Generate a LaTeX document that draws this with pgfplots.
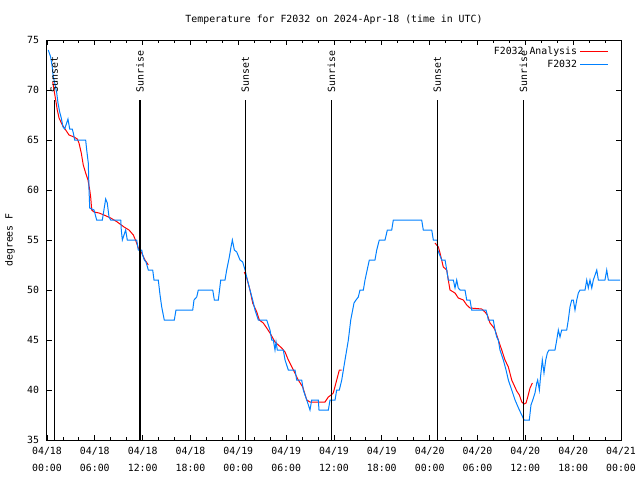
\documentclass[border=0pt]{standalone}
\usepackage{pgfplots}
\pgfplotsset{compat=1.18}
\usepackage{fontspec}
\setmainfont{DejaVu Sans Mono}
\setmonofont{DejaVu Sans Mono}
\definecolor{anared}{RGB}{255,0,0}
\definecolor{obsblue}{RGB}{0,128,255}

\begin{document}
\begin{tikzpicture}[font=\fontsize{7.4}{9}\selectfont]
\begin{axis}[
  name=ax,
  scale only axis,
  width=430.5pt, height=300pt,
  xmin=0, xmax=72, ymin=35, ymax=75,
  xtick={0,6,...,72},
  xticklabels={{04/18\\00:00},{04/18\\06:00},{04/18\\12:00},{04/18\\18:00},
               {04/19\\00:00},{04/19\\06:00},{04/19\\12:00},{04/19\\18:00},
               {04/20\\00:00},{04/20\\06:00},{04/20\\12:00},{04/20\\18:00},
               {04/21\\00:00}},
  minor x tick num=2,
  ytick={35,40,...,75},
  tick align=inside,
  major tick length=4pt, minor tick length=2.2pt,
  every tick/.style={black, line width=0.6pt},
  axis line style={line width=0.75pt},
  xticklabel style={align=center, font=\fontsize{7.4}{12.6}\selectfont, yshift=-2pt},
  yticklabel style={xshift=-2.5pt},
  /pgf/number format/assume math mode=true,
  title={Temperature for F2032 on 2024-Apr-18 (time in UTC)},
  title style={anchor=center, yshift=9pt},
  ylabel={degrees F},
  ylabel style={at={(0,0.5)}, anchor=center, yshift=27.75pt},
  legend style={draw=none, fill=none, at={(1,1)}, anchor=north east,
    xshift=-6pt, yshift=-1pt, row sep=-1.5pt,
    font=\fontsize{7.4}{9}\selectfont},
  legend cell align=right,
  legend plot pos=right,
  legend image code/.code={\draw[#1] (2pt,0pt) -- (23pt,0pt);},
]

% analysis, three pieces
\addplot[anared, line width=0.75pt] coordinates {
(0.72,70.8) (0.88,70) (1.09,69) (1.29,68) (1.51,67.2) (1.92,66.5) (2.35,66)
(2.76,65.5) (3.39,65.3) (3.80,65.1) (4.01,64.7) (4.30,63.7) (4.55,62.5)
(4.85,61.7) (5.14,61) (5.36,60) (5.48,59.3) (5.61,58) (5.90,57.8) (6.52,57.7)
(7.15,57.5) (7.99,57.2) (8.82,56.8) (9.66,56.3) (10.29,56) (10.83,55.5)
(11.25,54.7) (11.45,54.2) (11.88,53.7) (12.29,53) (12.71,52.5)
};
\addlegendentry{F2032 Analysis}
\addplot[anared, line width=0.75pt, forget plot] coordinates {
(24.75,51.8) (25.05,51.2) (25.46,50) (25.80,48.7) (26.31,47.8) (26.63,47)
(27.13,46.7) (27.56,46.2) (27.97,45.7) (28.60,44.8) (29.44,44.2) (29.86,43.8)
(30.27,43) (30.90,42) (31.52,41) (32.08,40.3) (32.58,39) (32.99,38.8)
(34.87,38.8) (35.29,39.3) (35.63,39.5) (35.91,39.7) (36.34,41) (36.67,42)
(36.97,42)
};
\addplot[anared, line width=0.75pt, forget plot] coordinates {
(48.67,54.7) (49.09,54.3) (49.30,53.7) (49.71,52.3) (50.14,52) (50.34,51)
(50.55,50) (51.18,49.7) (51.59,49.2) (52.22,49) (52.65,48.5) (53.06,48.2)
(54.53,48.1) (54.94,47.8) (55.23,47.5) (55.57,46.7) (55.98,46.3) (56.20,46)
(56.61,45) (57.04,44) (57.45,43) (57.87,42.3) (58.29,41) (58.92,39.9)
(59.25,39.5) (59.55,38.8) (59.84,38.6) (60.09,38.7) (60.30,39.3) (60.59,40.2)
(60.88,40.7)
};

% observations
\addplot[obsblue, line width=0.75pt] coordinates {
(0.16,74) (0.46,73.3) (0.66,72.3) (0.79,71.3) (0.97,70.7) (1.22,69.7)
(1.38,68.7) (1.59,67.8) (1.79,67.2) (2.01,66.3) (2.22,66.1) (2.63,67.1)
(2.85,66.1) (3.17,66.1) (3.30,65.7) (3.47,65) (4.85,65) (4.98,64) (5.18,62.7)
(5.27,60) (5.36,58.2) (5.90,58) (6.23,57) (6.94,57) (7.36,59.1) (7.56,58.7)
(7.78,57.3) (7.99,57) (9.25,57) (9.32,56) (9.45,55) (9.87,56) (10.07,55)
(11.25,55) (11.45,54) (11.88,54) (12.00,53.5) (12.21,53) (12.42,52.8)
(12.71,52) (13.26,52) (13.42,51) (13.96,51) (14.18,49.5) (14.39,48.3)
(14.71,47) (15.97,47) (16.18,48) (18.28,48) (18.44,49) (18.78,49.3)
(18.98,50) (20.79,50) (20.99,49) (21.49,49) (21.79,51) (22.33,51) (22.54,52)
(22.87,53.3) (23.08,54.3) (23.25,55) (23.50,54) (23.80,53.8) (24.21,53)
(24.55,52.8) (24.84,52) (25.05,51.3) (25.46,50) (25.80,49) (26.09,48)
(26.51,47) (27.56,47) (27.97,46) (28.19,45) (28.39,45) (28.60,44) (28.73,44.8)
(28.89,44) (29.64,44) (29.86,43) (30.27,42) (31.11,42) (31.32,41) (31.95,41)
(32.15,40) (32.58,39) (32.99,38) (33.20,39) (34.03,39) (34.12,38) (35.29,38)
(35.50,39) (36.13,39) (36.34,40) (36.67,40) (36.97,41) (37.38,43) (37.80,45)
(38.10,47) (38.51,48.7) (38.76,49) (39.05,49.3) (39.26,50) (39.68,50)
(39.89,51) (40.43,53) (41.14,53) (41.36,54) (41.68,55) (42.40,55) (42.69,56)
(43.24,56) (43.44,57) (47.00,57) (47.20,56) (48.26,56) (48.46,55) (48.96,55)
(49.01,54) (49.51,53) (49.93,53) (50.14,52) (50.34,51) (50.97,51) (51.18,50.2)
(51.39,51) (51.59,50.2) (51.81,50) (52.43,50) (52.65,49) (53.06,49) (53.27,48)
(55.07,48) (55.23,47.5) (55.36,47) (55.98,47) (56.20,46) (56.41,45.3)
(56.61,45) (56.82,44) (57.24,43) (57.58,42) (57.87,41) (58.29,40) (58.71,39)
(59.25,38) (59.67,37.3) (59.84,37) (60.50,37) (60.71,38.5) (60.93,39)
(61.21,39.7) (61.43,40.7) (61.55,41) (61.76,40) (61.93,41.5) (62.13,43)
(62.34,41.7) (62.56,43) (62.76,43.7) (62.97,44) (63.72,44) (63.94,45)
(64.14,46) (64.35,45.3) (64.56,46) (65.19,46) (65.39,47) (65.60,48.3)
(65.82,49) (66.02,49) (66.23,48) (66.45,49) (66.65,49.7) (66.86,50) (67.49,50)
(67.70,51) (67.90,50.2) (68.11,51) (68.33,50.2) (68.53,51) (68.96,52)
(69.16,51) (69.99,51) (70.21,52) (70.41,51) (71.88,51)
};
\addlegendentry{F2032}

% sunrise and sunset markers
\foreach \h/\lab in {0.92/Sunset, 11.67/Sunrise, 24.88/Sunset,
                     35.67/Sunrise, 48.97/Sunset, 59.76/Sunrise} {
  \edef\temp{\noexpand\draw[black, line width=1.1pt] (axis cs:\h,35) -- (axis cs:\h,69);
    \noexpand\node[rotate=90, anchor=west, inner sep=0pt] at (axis cs:\h,69.75) {\lab};}
  \temp
}
\end{axis}
\pgfresetboundingbox
\path (ax.south west) ++(-35.25pt,-30pt) rectangle ([xshift=14.25pt,yshift=30pt]ax.north east);
\end{tikzpicture}
\end{document}
